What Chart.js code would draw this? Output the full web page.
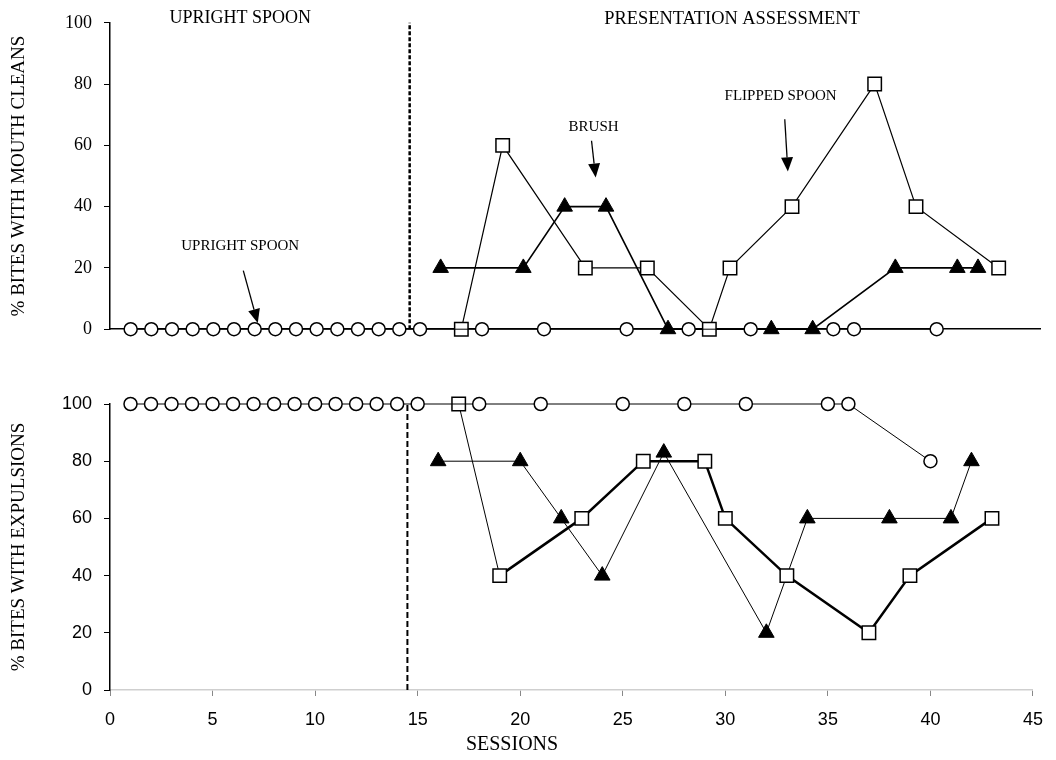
<!DOCTYPE html>
<html>
<head>
<meta charset="utf-8">
<script src="https://cdn.jsdelivr.net/npm/chart.js@4/dist/chart.umd.min.js"></script>
<style>
  html, body { margin: 0; padding: 0; background: #fff; }
  #wrap { position: relative; width: 1056px; height: 760px; }
  #topChart { position: absolute; left: 0; top: 0; }
  #bottomChart { position: absolute; left: 0; top: 340px; }
</style>
</head>
<body>
<div id="wrap">
  <canvas id="topChart" width="1056" height="352"></canvas>
  <canvas id="bottomChart" width="1056" height="420"></canvas>
</div>
<script>
// sessions for each condition (same in both panels)
const uprightSessions = [1, 2, 3, 4, 5, 6, 7, 8, 9, 10, 11, 12, 13, 14, 15, 18, 21, 25, 28, 31, 35, 36, 40];
const flippedSessions = [17, 19, 23, 26, 29, 30, 33, 37, 39, 43];
const brushSessions = [16, 20, 22, 24, 27, 32, 34, 38, 41, 42];

// % bites with mouth cleans
const cleansUpright = [0, 0, 0, 0, 0, 0, 0, 0, 0, 0, 0, 0, 0, 0, 0, 0, 0, 0, 0, 0, 0, 0, 0];
const cleansFlipped = [0, 60, 20, 20, 0, 20, 40, 80, 40, 20];
const cleansBrush = [20, 20, 40, 40, 0, 0, 0, 20, 20, 20];

// % bites with expulsions
const expulsionsUpright = [100, 100, 100, 100, 100, 100, 100, 100, 100, 100, 100, 100, 100, 100, 100, 100, 100, 100, 100, 100, 100, 100, 80];
const expulsionsFlipped = [100, 40, 60, 80, 80, 60, 40, 20, 40, 60];
const expulsionsBrush = [80, 80, 60, 40, 83, 20, 60, 60, 60, 80];

const phaseChange = 14.5;
const yTicks = [0, 20, 40, 60, 80, 100];

// labels and arrows (data coordinates)
const topTexts = [
  { text: "UPRIGHT SPOON", x: 6.3, y: 101.6, size: 18 },
  { text: "PRESENTATION ASSESSMENT", x: 30.1, y: 101.3, size: 18.4 },
  { text: "UPRIGHT SPOON", x: 6.3, y: 27.2, size: 15 },
  { text: "BRUSH", x: 23.4, y: 66, size: 15 },
  { text: "FLIPPED SPOON", x: 32.45, y: 76, size: 15 },
];
const topArrows = [
  { x0: 6.45, y0: 19.1, x1: 7.15, y1: 2.0 },
  { x0: 23.3, y0: 61.5, x1: 23.5, y1: 49.5 },
  { x0: 32.65, y0: 68.5, x1: 32.8, y1: 51.5 },
];
const bottomTexts = [
  { text: "SESSIONS", x: 19.6, y: -19.2, size: 20 },
];

const pts = (xs, ys) => xs.map((x, i) => ({ x: x, y: ys[i] }));

const notesPlugin = {
  id: "notes",
  afterDatasetsDraw(chart, args, opts) {
    const ctx = chart.ctx;
    const x = chart.scales.x;
    const y = chart.scales.y;
    ctx.save();
    ctx.fillStyle = "#000";
    ctx.strokeStyle = "#000";
    ctx.textAlign = "center";
    ctx.textBaseline = "middle";
    (opts.texts || []).forEach((t) => {
      ctx.font = t.size + "px 'Liberation Serif', 'Times New Roman', serif";
      ctx.fillText(t.text, x.getPixelForValue(t.x), y.getPixelForValue(t.y));
    });
    (opts.arrows || []).forEach((a) => {
      const sx = x.getPixelForValue(a.x0), sy = y.getPixelForValue(a.y0);
      const ex = x.getPixelForValue(a.x1), ey = y.getPixelForValue(a.y1);
      const ang = Math.atan2(ey - sy, ex - sx);
      const head = 14, half = 6;
      const bx = ex - head * Math.cos(ang), by = ey - head * Math.sin(ang);
      ctx.lineWidth = 1.3;
      ctx.beginPath();
      ctx.moveTo(sx, sy);
      ctx.lineTo(bx, by);
      ctx.stroke();
      ctx.beginPath();
      ctx.moveTo(ex, ey);
      ctx.lineTo(bx + half * Math.sin(ang), by - half * Math.cos(ang));
      ctx.lineTo(bx - half * Math.sin(ang), by + half * Math.cos(ang));
      ctx.closePath();
      ctx.fill();
    });
    ctx.restore();
  },
};

function circleSet(data) {
  return {
    data: data, borderColor: "#000", borderWidth: 1,
    pointStyle: "circle", pointRadius: 6.5, pointBorderWidth: 1.5,
    pointBackgroundColor: "#fff", pointBorderColor: "#000", clip: false,
  };
}
function squareSet(data, width, firstWidth) {
  return {
    data: data, borderColor: "#000", borderWidth: width,
    segment: { borderWidth: (c) => (c.p0DataIndex === 0 ? firstWidth : width) },
    pointStyle: "rect", pointRadius: 9.5, pointBorderWidth: 1.5,
    pointBackgroundColor: "#fff", pointBorderColor: "#000", clip: false,
  };
}
function triangleSet(data, width) {
  return {
    data: data, borderColor: "#000", borderWidth: width,
    pointStyle: "triangle", pointRadius: 9, pointBorderWidth: 1,
    pointBackgroundColor: "#000", pointBorderColor: "#000", clip: false,
  };
}
function phaseSet(width, dash) {
  return {
    data: [{ x: phaseChange, y: 0 }, { x: phaseChange, y: 100 }],
    borderColor: "#000", borderWidth: width, borderDash: dash,
    pointRadius: 0, clip: false,
  };
}

function buildOptions(cfg) {
  return {
    responsive: false,
    animation: false,
    layout: { padding: cfg.padding },
    plugins: {
      legend: { display: false },
      tooltip: { enabled: false },
      notes: { texts: cfg.texts, arrows: cfg.arrows },
    },
    scales: {
      x: {
        type: "linear", min: 0, max: 45,
        afterFit: (s) => { s.height = cfg.xHeight; },
        ticks: {
          display: cfg.xTicks, stepSize: 5, padding: 13, color: "#000",
          font: { family: "'Liberation Sans', Arial, sans-serif", size: 18 },
        },
        grid: {
          display: cfg.xTicks, drawOnChartArea: false, tickLength: 6,
          color: "#888",
        },
        border: { display: true, color: cfg.xBorder, width: 1.5 },
      },
      y: {
        min: 0, max: 100,
        afterFit: (s) => { s.width = 110; },
        afterBuildTicks: (s) => { s.ticks = yTicks.map((v) => ({ value: v })); },
        ticks: {
          padding: 12, color: "#000",
          font: { family: cfg.yFont, size: 18 },
        },
        grid: { drawOnChartArea: false, tickLength: 6, color: "#000" },
        border: { color: "#000", width: 1.5 },
        title: {
          display: true, text: cfg.yTitle, color: "#000",
          padding: { top: 8, bottom: 0 },
          font: { family: "'Liberation Serif', 'Times New Roman', serif", size: 19 },
        },
      },
    },
  };
}

new Chart(document.getElementById("topChart"), {
  type: "line",
  data: {
    datasets: [
      circleSet(pts(uprightSessions, cleansUpright)),
      squareSet(pts(flippedSessions, cleansFlipped), 1.2, 1.2),
      triangleSet(pts(brushSessions, cleansBrush), 1.6),
      phaseSet(2.5, [4, 2]),
    ],
  },
  options: buildOptions({
    padding: { top: 20, right: 16, left: 0, bottom: 0 },
    xHeight: 11, xTicks: false, xBorder: "#000",
    yFont: "'Liberation Serif', 'Times New Roman', serif",
    yTitle: "% BITES WITH MOUTH CLEANS",
    texts: topTexts, arrows: topArrows,
  }),
  plugins: [notesPlugin],
});

new Chart(document.getElementById("bottomChart"), {
  type: "line",
  data: {
    datasets: [
      circleSet(pts(uprightSessions, expulsionsUpright)),
      squareSet(pts(flippedSessions, expulsionsFlipped), 2.5, 1),
      triangleSet(pts(brushSessions, expulsionsBrush), 1),
      phaseSet(2, [6, 3]),
    ],
  },
  options: buildOptions({
    padding: { top: 64, right: 16, left: 0, bottom: 0 },
    xHeight: 70, xTicks: true, xBorder: "#cfcfcf",
    yFont: "'Liberation Sans', Arial, sans-serif",
    yTitle: "% BITES WITH EXPULSIONS",
    texts: bottomTexts, arrows: [],
  }),
  plugins: [notesPlugin],
});
</script>
</body>
</html>
